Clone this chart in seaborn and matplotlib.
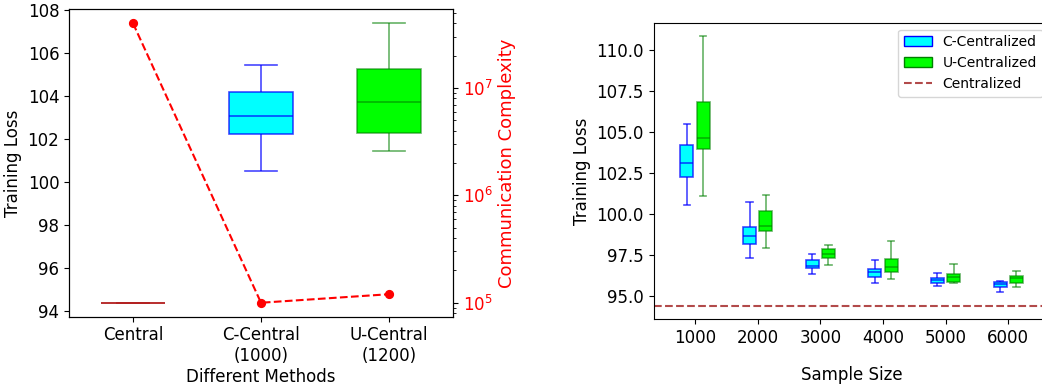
import numpy as np
import pandas as pd
import matplotlib
matplotlib.use("Agg")
import matplotlib.pyplot as plt
from matplotlib.patches import Patch
from matplotlib.lines import Line2D
import seaborn as sns

# ---------------- Left panel data ----------------
methods = ["Central", "C-Central\n(1000)", "U-Central\n(1200)"]
left_low = [94.4, 100.55, 101.45]
left_q1 = [94.4, 102.25, 102.3]
left_med = [94.4, 103.1, 103.72]
left_q3 = [94.4, 104.22, 105.28]
left_high = [94.4, 105.48, 107.4]
comm_complexity = [4.0e7, 1.0e5, 1.2e5]

# ---------------- Right panel data ----------------
sample_sizes = [1000, 2000, 3000, 4000, 5000, 6000]
c_low = [100.52, 97.27, 96.30, 95.77, 95.59, 95.24]
c_q1 = [102.25, 98.13, 96.66, 96.15, 95.75, 95.55]
c_med = [103.08, 98.67, 96.80, 96.42, 95.93, 95.69]
c_q3 = [104.2, 99.2, 97.17, 96.60, 96.09, 95.83]
c_high = [105.47, 100.72, 97.56, 97.17, 96.36, 95.91]
u_low = [101.11, 97.9, 96.87, 96.03, 95.75, 95.51]
u_q1 = [103.97, 98.96, 97.27, 96.46, 95.85, 95.75]
u_med = [104.6, 99.26, 97.53, 96.76, 96.12, 96.05]
u_q3 = [106.79, 100.14, 97.82, 97.21, 96.32, 96.18]
u_high = [110.83, 101.15, 98.12, 98.35, 96.93, 96.48]
centralized_loss = 94.4
series_names = ["C-Centralized", "U-Centralized"]


def five_points(lo, q1, med, q3, hi):
    # five samples reproduce the box statistics exactly (whis=(0, 100))
    return [lo, q1, med, q3, hi]


left_rows = []
for m, a, b, c, d, e in zip(methods, left_low, left_q1, left_med, left_q3, left_high):
    for v in five_points(a, b, c, d, e):
        left_rows.append({"method": m, "loss": v})
left_df = pd.DataFrame(left_rows)

right_rows = []
for name, stats in zip(series_names,
                       [(c_low, c_q1, c_med, c_q3, c_high),
                        (u_low, u_q1, u_med, u_q3, u_high)]):
    for i, s in enumerate(sample_sizes):
        for v in five_points(*(arr[i] for arr in stats)):
            right_rows.append({"size": s, "method": name, "loss": v})
right_df = pd.DataFrame(right_rows)

plt.rcParams["font.family"] = ["DejaVu Sans"]
plt.rcParams["font.size"] = 12

W, H = 1042, 391
fig = plt.figure(figsize=(W / 100, H / 100), dpi=100)

ax1 = fig.add_axes([69 / W, 1 - 316.7 / H, (453 - 69) / W, (316.7 - 9.3) / H])
ax3 = fig.add_axes([653.7 / W, 1 - 319 / H, (1049.6 - 653.7) / W, (319 - 22.7) / H])

face = {"Central": "brown", methods[1]: "cyan", methods[2]: "lime"}
edge = {"Central": (0.70, 0.13, 0.13, 0.85),
        methods[1]: (0.0, 0.0, 1.0, 0.72),
        methods[2]: (0.0, 0.5, 0.0, 0.6)}

for m in methods:
    sns.boxplot(data=left_df[left_df["method"] == m], x="method", y="loss",
                order=methods, color=face[m], linecolor=edge[m], width=0.5,
                whis=(0, 100), saturation=1, linewidth=1.2, ax=ax1)

ax1.set_xlim(-0.5, 2.5)
ax1.set_ylabel("Training Loss", fontsize=12)
ax1.set_xlabel("Different Methods", fontsize=12, labelpad=2)
ax1.tick_params(labelsize=12)

ax2 = ax1.twinx()
sns.pointplot(x=methods, y=comm_complexity, order=methods, color="red",
              linestyles="--", markers="o", markersize=5.5, linewidth=1.5,
              errorbar=None, log_scale=True, ax=ax2)
ax2.set_xlim(-0.5, 2.5)
ax2.set_ylabel("Communication Complexity", color="red", fontsize=13)
ax2.tick_params(axis="y", which="major", labelcolor="red", labelsize=12)

# ---------------- Right panel ----------------
pal = {"C-Centralized": "cyan", "U-Centralized": "lime"}
line_cols = {"C-Centralized": (0.0, 0.0, 1.0, 0.72),
             "U-Centralized": (0.0, 0.5, 0.0, 0.6)}
for name in series_names:
    sns.boxplot(data=right_df[right_df["method"] == name], x="size", y="loss",
                hue="method", hue_order=series_names, palette=pal,
                linecolor=line_cols[name], order=sample_sizes, dodge=True,
                width=0.52, gap=0.2, whis=(0, 100), saturation=1,
                linewidth=1.2, legend=False, ax=ax3)

ax3.axhline(centralized_loss, color="brown", alpha=0.85, linestyle="--",
            linewidth=1.5)
ax3.set_xlim(-0.66, 5.66)
ax3.set_ylabel("Training Loss", fontsize=12)
ax3.set_xlabel("Sample Size", fontsize=12, labelpad=14)
ax3.tick_params(labelsize=12)

handles = [Patch(facecolor="cyan", edgecolor="blue", label="C-Centralized"),
           Patch(facecolor="lime", edgecolor="green", label="U-Centralized"),
           Line2D([], [], color="brown", alpha=0.85, linestyle="--",
                  linewidth=1.5, label="Centralized")]
ax3.legend(handles=handles, loc="upper right", fontsize=10)

fig.savefig("out.png", dpi=100)
